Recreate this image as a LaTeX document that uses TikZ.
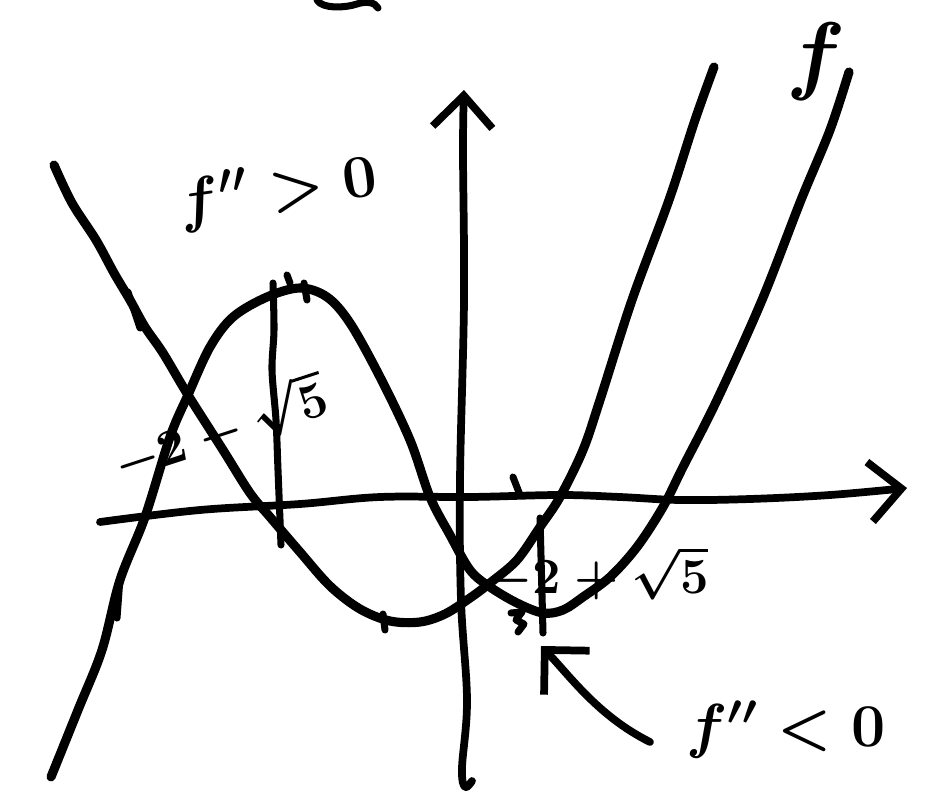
\documentclass[tikz,border=0pt]{standalone}
\usepackage{tikz}
\usetikzlibrary{arrows.meta, positioning}

\begin{document}
\begin{tikzpicture}[x=0.01cm, y=-0.01cm, line cap=round, line join=round,
    curve/.style={line width=2.6pt},
    axis/.style={line width=2.2pt, -{Straight Barb[length=9pt, width=17pt, line width=2.2pt]}},
    tick/.style={line width=2pt},
    pointer/.style={line width=2.2pt, -{Straight Barb[length=9pt, width=18pt, line width=2.2pt]}},
    lbl/.style={font=\fontsize{18}{21}\selectfont\boldmath, inner sep=0pt},
    rootlbl/.style={font=\fontsize{14.5}{17}\selectfont\boldmath, inner sep=0pt}]

    \useasboundingbox (0,0) rectangle (939,797);

    % Axes
    \draw[axis] plot[smooth, tension=0.6] coordinates {(100,522) (200,510) (300,504) (380,497) (470,497) (560,495) (620,497) (680,500) (750,499) (830,495) (907,488)};
    \draw[axis] plot[smooth, tension=0.6] coordinates {(472,781) (465,787) (462,768) (467,700) (461,600) (460,480) (464,300) (463,150) (464,90)};

    % f (cubic)
    \draw[curve] plot[smooth, tension=0.55] coordinates {(51,777) (78,710) (102,650) (120,580) (145,517) (170,437) (188,395) (210,347) (233,317) (267,297) (300,288) (327,297) (350,323) (380,377) (410,440) (430,497) (450,535) (470,570) (490,587) (517,603) (543,613) (563,610) (583,597) (610,577) (637,547) (663,507) (683,467) (717,400) (762,300) (801,200) (830,130) (849,72)};

    % f' (parabola)
    \draw[curve] plot[smooth, tension=0.55] coordinates {(54,165) (72,203) (96,240) (114,273) (130,300) (145,327) (163,353) (188,395) (223,450) (250,493) (270,517) (300,552) (330,586) (360,609) (390,621) (420,622) (445,614) (470,598) (490,583) (517,560) (540,527) (560,497) (583,450) (600,400) (632,300) (669,200) (695,120) (714,67)};

    % projections and ticks
    \draw[tick] plot[smooth] coordinates {(273,283) (274,330) (272,370) (276,420) (278,470) (281,545)};
    \draw[tick] (540,518) -- (543,633);
    \foreach \xa/\ya/\xb/\yb in {513/477/520/495, 383/614/385/630, 120/578/117/618, 128/292/140/328, 287/275/290/283, 304/283/307/300}
    {
        \draw[tick] (\xa,\ya) -- (\xb,\yb);
    }
    \draw[tick] (511,613) -- (522,612) -- (516,620) -- (524,624) -- (518,632);
    \draw[tick] (317,0) .. controls (322,9) and (345,8) .. (357,4) .. controls (366,1) and (375,2) .. (378,8);

    % labels
    \node[lbl, rotate=8] (lblpos) at (278,192) {$f''>0$};
    \node[lbl] (lblneg) at (786,730) {$f''<0$};
    \node[rootlbl, rotate=18] (rootl) at (220,428) {$-2-\sqrt{5}$};
    \node[rootlbl] (rootr) at (598,573) {$-2+\sqrt{5}$};
    \node[font=\fontsize{30}{32}\selectfont\boldmath, inner sep=0pt] (lblf) at (816,62) {$f$};

    % arrow to the minimum
    \coordinate (tailneg) at (650,742);
    \coordinate (tipneg) at (541,646);
    \draw[pointer] (tailneg) .. controls (598,716) and (570,676) .. (tipneg);

\end{tikzpicture}
\end{document}
